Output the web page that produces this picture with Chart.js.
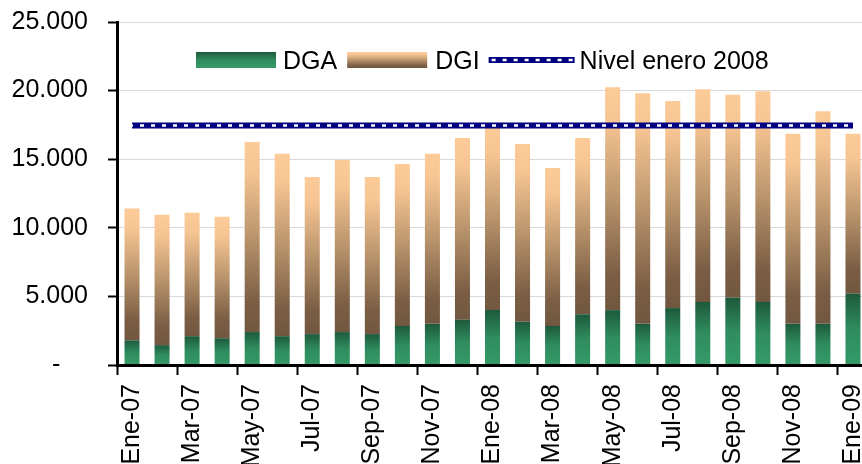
<!DOCTYPE html>
<html>
<head>
<meta charset="utf-8">
<script src="https://cdn.jsdelivr.net/npm/chart.js@4"></script>
<style>
  html, body { margin: 0; padding: 0; overflow: hidden; background: #fff; }
  #wrap { width: 870px; height: 464px; }
</style>
</head>
<body>
<div id="wrap"><canvas id="grafica"></canvas></div>
<script>
// Datos
const meses = ["Ene-07", "Feb-07", "Mar-07", "Abr-07", "May-07", "Jun-07", "Jul-07", "Ago-07", "Sep-07", "Oct-07", "Nov-07", "Dic-07",
               "Ene-08", "Feb-08", "Mar-08", "Abr-08", "May-08", "Jun-08", "Jul-08", "Ago-08", "Sep-08", "Oct-08", "Nov-08", "Dic-08", "Ene-09"];
const dga = [1800, 1450, 2100, 1950, 2400, 2100, 2250, 2400, 2250, 2850, 3000, 3300,
             4000, 3150, 2850, 3700, 4000, 3000, 4150, 4600, 4900, 4600, 3000, 3000, 5200];
const dgi = [9600, 9500, 9000, 8850, 13850, 13300, 11450, 12550, 11450, 11800, 12400, 13250,
             13450, 12950, 11500, 12850, 16250, 16800, 15100, 15500, 14800, 15350, 13850, 15500, 11650];
const nivelEnero2008 = [17450, 17450, 17450, 17450, 17450, 17450, 17450, 17450, 17450, 17450, 17450, 17450,
                        17450, 17450, 17450, 17450, 17450, 17450, 17450, 17450, 17450, 17450, 17450, 17450, 17450];
const yMax = 25000;
const yPaso = 5000;

const FUENTE = '"Liberation Sans", Arial, sans-serif';
const TAM = 25;
const NAVY = "#000080";

function formatoMiles(v) {
    return String(v).replace(/\B(?=(\d{3})+(?!\d))/g, ".");
}

// gradientes de las barras
function gradVerde(ctx, yTop, yBase) {
    const g = ctx.createLinearGradient(0, yTop, 0, yBase);
    g.addColorStop(0, "#1d5a3c");
    g.addColorStop(0.5, "#2f8c5e");
    g.addColorStop(1, "#349a68");
    return g;
}
function gradMarron(ctx, yTop, yBase) {
    const g = ctx.createLinearGradient(0, yTop, 0, yBase);
    g.addColorStop(0, "#fdcb98");
    g.addColorStop(0.15, "#f7c593");
    g.addColorStop(0.5, "#b9946c");
    g.addColorStop(0.85, "#7a5d44");
    g.addColorStop(1, "#725740");
    return g;
}

function colorBarra(c, inferior, superior, grad, base) {
    const chart = c.chart;
    const y = chart.scales.y;
    if (!y || !chart.chartArea || c.dataIndex === undefined) return base;
    const i = c.dataIndex;
    const y0 = y.getPixelForValue(inferior[i]);
    const y1 = y.getPixelForValue(inferior[i] + superior[i]);
    return grad(chart.ctx, y1, y0);
}

const ceros = dga.map(() => 0);

// línea punteada blanca sobre la línea azul
const marcadores = {
    id: "marcadores",
    afterDatasetsDraw(chart) {
        const meta = chart.getDatasetMeta(2);
        const pts = meta.data;
        if (!pts.length) return;
        const ctx = chart.ctx;
        ctx.save();
        ctx.strokeStyle = "#fff";
        ctx.lineWidth = 2.5;
        ctx.setLineDash([4, 7]);
        ctx.beginPath();
        ctx.moveTo(pts[0].x - 3, pts[0].y);
        ctx.lineTo(pts[pts.length - 1].x, pts[pts.length - 1].y);
        ctx.stroke();
        ctx.restore();
    }
};

// leyenda dentro del área del gráfico
const leyenda = {
    id: "leyenda",
    afterDraw(chart) {
        const { ctx, chartArea } = chart;
        const ds = chart.data.datasets;
        const top = chartArea.top + 30;
        const base = top + 17;
        let x = chartArea.left + 79;
        ctx.save();
        ctx.font = TAM + "px " + FUENTE;
        ctx.fillStyle = "#000";
        ctx.textBaseline = "alphabetic";

        ctx.fillStyle = gradVerde(ctx, top, top + 16);
        ctx.fillRect(x, top, 80, 16);
        x += 87;
        ctx.fillStyle = "#000";
        ctx.fillText(ds[0].label, x, base);
        x += ctx.measureText(ds[0].label).width + 10;

        ctx.fillStyle = gradMarron(ctx, top, top + 16);
        ctx.fillRect(x, top, 80, 16);
        x += 88;
        ctx.fillStyle = "#000";
        ctx.fillText(ds[1].label, x, base);
        x += ctx.measureText(ds[1].label).width + 9;

        const ym = top + 8;
        ctx.strokeStyle = NAVY;
        ctx.lineWidth = 6;
        ctx.beginPath();
        ctx.moveTo(x, ym);
        ctx.lineTo(x + 86, ym);
        ctx.stroke();
        ctx.strokeStyle = "#fff";
        ctx.lineWidth = 2.5;
        ctx.setLineDash([4, 7]);
        ctx.beginPath();
        ctx.moveTo(x + 3, ym);
        ctx.lineTo(x + 84, ym);
        ctx.stroke();
        ctx.setLineDash([]);
        x += 91;
        ctx.fillStyle = "#000";
        ctx.fillText(ds[2].label, x, base);
        ctx.restore();
    }
};

const ctx = document.getElementById("grafica").getContext("2d");
const grafica = new Chart(ctx, {
    type: "bar",
    data: {
        labels: meses,
        datasets: [
            {
                label: "DGA",
                data: dga,
                backgroundColor: c => colorBarra(c, ceros, dga, gradVerde, "#2f8c5e"),
                barPercentage: 0.5,
                categoryPercentage: 1,
                order: 1
            },
            {
                label: "DGI",
                data: dgi,
                backgroundColor: c => colorBarra(c, dga, dgi, gradMarron, "#c9a27a"),
                barPercentage: 0.5,
                categoryPercentage: 1,
                order: 1
            },
            {
                type: "line",
                label: "Nivel enero 2008",
                data: nivelEnero2008,
                stack: "nivel",
                borderColor: NAVY,
                borderWidth: 6,
                borderCapStyle: "butt",
                pointRadius: 0,
                fill: false,
                order: 0
            }
        ]
    },
    options: {
        responsive: true,
        maintainAspectRatio: false,
        animation: false,
        devicePixelRatio: 1,
        layout: { padding: { top: 22, right: 2, left: 12, bottom: 0 } },
        plugins: {
            legend: { display: false },
            tooltip: { enabled: false }
        },
        scales: {
            x: {
                stacked: true,
                offset: true,
                afterFit: s => { s.height = 99; s.paddingLeft = 0; s.paddingRight = 0; },
                grid: {
                    offset: true,
                    drawOnChartArea: false,
                    drawTicks: true,
                    tickLength: 10,
                    tickWidth: 2,
                    tickColor: c => (c.index % 2 === 0 ? "#000" : "rgba(0,0,0,0)")
                },
                border: { color: "#000", width: 3, z: 1 },
                ticks: {
                    autoSkip: false,
                    maxRotation: 90,
                    minRotation: 90,
                    padding: 9,
                    color: "#000",
                    font: { family: FUENTE, size: TAM },
                    callback: (v, i) => (i % 2 === 0 ? meses[i] : "")
                }
            },
            y: {
                stacked: true,
                min: 0,
                max: yMax,
                afterFit: s => { s.width = 105; s.paddingTop = 0; s.paddingBottom = 0; },
                grid: {
                    color: c => (c.tick && c.tick.value === 0 ? "rgba(0,0,0,0)" : "#d9d9d9"),
                    lineWidth: 1,
                    tickLength: 9,
                    tickWidth: 2,
                    tickColor: "#000"
                },
                border: { color: "#000", width: 3, z: 1 },
                ticks: {
                    stepSize: yPaso,
                    padding: 20,
                    color: "#000",
                    font: { family: FUENTE, size: TAM },
                    callback: v => (v === 0 ? "-    " : formatoMiles(v))
                }
            }
        }
    },
    plugins: [marcadores, leyenda]
});
</script>
</body>
</html>
